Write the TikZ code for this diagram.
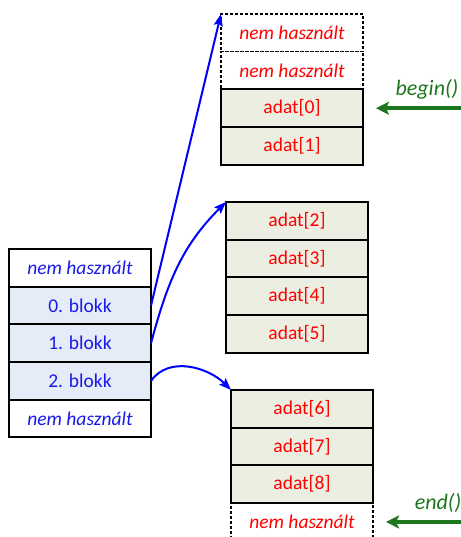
\documentclass[tikz,border=0pt]{standalone}
\usepackage{fontspec}
\setmainfont{Carlito}
\usetikzlibrary{positioning, arrows.meta}

\definecolor{blokkblue}{RGB}{25,25,235}
\definecolor{blokkfill}{RGB}{229,235,247}
\definecolor{adatfill}{RGB}{235,238,224}
\definecolor{adatred}{RGB}{255,0,0}
\definecolor{ptrblue}{RGB}{0,0,255}
\definecolor{itergreen}{RGB}{30,118,30}

\begin{document}
\begin{tikzpicture}[x=1pt, y=1pt,
    cell/.style={draw, line width=2pt, minimum width=142pt, minimum height=37.7pt,
        inner sep=0pt, outer sep=0pt, font=\fontsize{19.5}{22}\selectfont},
    blokk/.style={cell, fill=blokkfill, text=blokkblue},
    szabad/.style={cell, text=blokkblue, font=\fontsize{19.5}{22}\selectfont\itshape},
    adat/.style={cell, fill=adatfill, text=adatred},
    ures/.style={cell, line width=1.4pt, dash pattern=on 3pt off 2pt, text=adatred,
        font=\fontsize{19.5}{22}\selectfont\itshape},
    ptr/.style={ptrblue, line width=2pt, -{Stealth[length=12pt, width=9pt, inset=2pt]}},
    iter/.style={itergreen, line width=3.6pt, shorten >=13pt,
        -{Stealth[length=13pt, width=13pt, inset=3pt]}},
    iterlabel/.style={text=itergreen, inner sep=0pt, font=\fontsize{22}{26}\selectfont\itshape}]
    \useasboundingbox (0,0) rectangle (460,537);

    \node[szabad, anchor=north west] (s0) at (9,288) {nem használt};
    \node[blokk, below=0pt of s0] (b0) {0. blokk};
    \node[blokk, below=0pt of b0] (b1) {1. blokk};
    \node[blokk, below=0pt of b1] (b2) {2. blokk};
    \node[szabad, below=0pt of b2] (s1) {nem használt};

    \node[ures, anchor=north west] (u0) at (221,523) {nem használt};
    \node[ures, below=0pt of u0] (u1) {nem használt};
    \node[adat, below=0pt of u1] (a0) {adat[0]};
    \node[adat, below=0pt of a0] (a1) {adat[1]};

    \node[adat, anchor=north west] (a2) at (226,335) {adat[2]};
    \node[adat, below=0pt of a2] (a3) {adat[3]};
    \node[adat, below=0pt of a3] (a4) {adat[4]};
    \node[adat, below=0pt of a4] (a5) {adat[5]};

    \node[adat, anchor=north west] (a6) at (231,147) {adat[6]};
    \node[adat, below=0pt of a6] (a7) {adat[7]};
    \node[adat, below=0pt of a7] (a8) {adat[8]};
    \node[ures, below=0pt of a8] (u2) {nem használt};

    \draw[ptr] (b0.east) -- (u0.north west);
    \draw[ptr] (b1.east) to[out=75, in=-135] (a2.north west);
    \draw[ptr] (b2.east) to[out=55, in=135] (a6.north west);

    \coordinate (beginpt) at ([xshift=100pt]a0.east);
    \coordinate (endpt) at ([xshift=100pt]u2.east);
    \draw[iter] (beginpt) -- node[iterlabel, pos=0.36, above=7pt] {begin()} (a0.east);
    \draw[iter] (endpt) -- node[iterlabel, pos=0.35, above=8pt] {end()} (u2.east);
\end{tikzpicture}
\end{document}
